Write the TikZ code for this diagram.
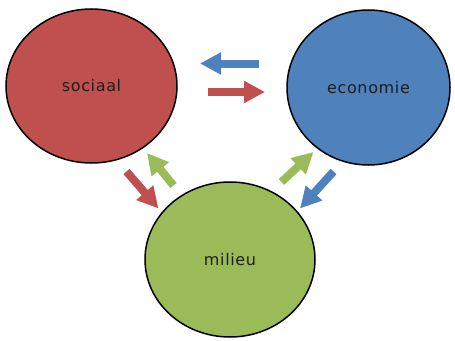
\documentclass[tikz,border=0pt]{standalone}
\usepackage{fontspec}
\setmainfont{DejaVu Sans}[LetterSpace=4]
\usetikzlibrary{shapes.geometric,arrows.meta}
\definecolor{cred}{HTML}{C0504D}
\definecolor{cblue}{HTML}{4F81BD}
\definecolor{cgreen}{HTML}{9BBB59}
\definecolor{ctext}{HTML}{1E1E1E}
\begin{document}
\begin{tikzpicture}[x=1pt,y=-1pt,
  circ/.style={ellipse,draw=black,line width=1.5pt,inner sep=0pt,
    font=\fontsize{16}{19}\selectfont,text=ctext},
  blockarrow/.style={line width=8pt,line cap=butt,
    -{Triangle[width=21pt,length=21pt]}}]
\useasboundingbox (0,0) rectangle (455,340);
\node[circ,fill=cred,minimum width=171pt,minimum height=154pt] (soc) at (91.5,86) {sociaal};
\node[circ,fill=cblue,minimum width=163pt,minimum height=155pt] (eco) at (368.5,87.5) {economie};
\node[circ,fill=cgreen,minimum width=170pt,minimum height=155pt] (mil) at (230,259.5) {milieu};
% arrow end points
\coordinate (a1s) at (259,63.5);   \coordinate (a1e) at (200,63.5);
\coordinate (a2s) at (208,92);     \coordinate (a2e) at (265,92);
\coordinate (a3s) at (126.5,171.5); \coordinate (a3e) at (158.5,208.5);
\coordinate (a4s) at (173.5,185.5); \coordinate (a4e) at (147,153);
\coordinate (a5s) at (281.5,182);  \coordinate (a5e) at (313.5,152);
\coordinate (a6s) at (333.5,171.5); \coordinate (a6e) at (300,208.5);
\draw[blockarrow,cblue]  (a1s) -- (a1e);
\draw[blockarrow,cred]   (a2s) -- (a2e);
\draw[blockarrow,cred]   (a3s) -- (a3e);
\draw[blockarrow,cgreen] (a4s) -- (a4e);
\draw[blockarrow,cgreen] (a5s) -- (a5e);
\draw[blockarrow,cblue]  (a6s) -- (a6e);
\end{tikzpicture}
\end{document}
